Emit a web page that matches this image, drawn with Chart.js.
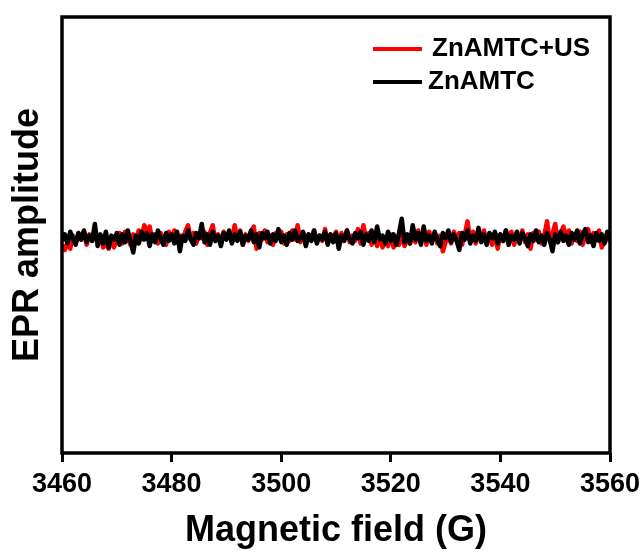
<!DOCTYPE html>
<html>
<head>
<meta charset="utf-8">
<script src="https://cdn.jsdelivr.net/npm/chart.js@4.4.1/dist/chart.umd.min.js"></script>
<style>
  html, body { margin: 0; padding: 0; background: #ffffff; }
  #wrap { width: 644px; height: 553px; }
</style>
</head>
<body>
<div id="wrap"><canvas id="epr" width="644" height="553"></canvas></div>
<script>
// Magnetic field sweep: 3460–3560 G, 0.5 G per point (201 points)
const fieldStart = 3460;
const fieldStep = 0.5;

const xTicks = [3460, 3480, 3500, 3520, 3540, 3560];

const seriesNames = ['ZnAMTC+US', 'ZnAMTC'];
const seriesColors = ['#ff0000', '#000000'];

// EPR amplitude (a.u.), ZnAMTC after ultrasound
const ampZnAMTC_US = [
  -6, -10, -4, -9, 1, -5, 3, -2, 4, -6, 2, -3, 5, -4, 1, -8, -5, -9, -3, -8,
  -2, 3, -5, 4, -1, -6, 2, -3, 5, -2, 9, 4, 8, -3, 2, -5, 3, -1, -6, 4,
  -2, 5, -4, 1, -3, 4, 9, -2, 3, -5, 2, -1, 4, -6, 3, 9, -3, 2, -5, 4,
  -1, 3, -4, 9, -2, 5, -6, 2, -3, 4, 8, -9, 3, -2, 5, -4, 1, -6, 3, -1,
  4, -5, 2, -3, 5, -2, 9, -4, 3, -6, 2, -1, 5, -4, 1, -3, 6, -5, 2, -2,
  4, -6, 3, -2, 5, -4, 1, -3, 6, -5, 9, -2, 3, -6, 2, -7, 1, -8, -3, -7,
  2, -8, -4, -6, 3, -7, -2, -5, 1, -4, 5, -3, 2, -6, 4, -2, 3, -5, 1, -11,
  -4, 2, -5, 4, -1, 3, -6, 2, 12, -3, 4, -5, 2, -2, 5, -4, 1, -6, 3, -9,
  2, -3, 5, -2, 4, -6, 1, -3, 5, -4, 2, -9, 3, -2, 4, -5, 1, 12, -3, 2,
  10, -4, 3, 8, -2, 5, -5, 2, -3, 4, -6, 1, 6, -4, 3, -2, 5, -8, -3, 1,
  -4
];

// EPR amplitude (a.u.), ZnAMTC
const ampZnAMTC = [
  -3, 2, -5, 4, -1, -6, 3, -2, 5, -4, 1, -3, 10, -7, 2, -5, 4, -8, 1, -2,
  3, -6, 2, -4, 5, -3, -12, 1, -5, 4, -2, 3, -7, 2, -4, 5, -1, -6, 3, -3,
  2, -5, 4, -11, 1, -3, 5, -2, -6, 3, -1, 10, -4, 2, -6, 4, -3, 1, -7, 3,
  -2, 5, -5, 2, -3, 4, -6, 1, -2, 5, -4, 2, -8, 3, -1, 4, -5, 2, -3, 6,
  -4, 1, -6, 3, -2, 5, -3, -1, 4, -7, 2, -3, 5, -5, 1, -2, 4, -6, 2, -4,
  3, -9, 1, -3, 5, -2, -5, 3, -1, 4, -6, 2, -3, 5, -4, 8, -2, 1, -5, 4,
  -3, 2, -6, 3, 14, -4, 2, -5, 9, -2, 3, -6, 8, -3, 1, -5, 4, -2, -7, 3,
  -1, 5, -4, 2, -3, -10, 3, -2, 5, -5, 1, -3, 7, -4, 2, -6, 3, -1, 4, -5,
  2, -3, 5, -6, 1, -2, 4, -5, 3, -1, -7, 2, -3, 5, -4, 1, -6, 3, -2, -11,
  2, -4, 4, -3, 1, -6, 3, -2, 5, -5, 2, 6, -4, 1, -7, 3, -3, 2, -5, 4,
  -2
];

const FONT = '"Liberation Sans", Arial, Helvetica, sans-serif';

function toPoints(values) {
  return values.map((v, i) => ({ x: fieldStart + i * fieldStep, y: v }));
}

// Closed black frame around the plotting area
const framePlugin = {
  id: 'frame',
  afterDatasetsDraw(chart) {
    const { ctx, chartArea: a } = chart;
    ctx.save();
    ctx.strokeStyle = '#000';
    ctx.lineWidth = 3.5;
    ctx.strokeRect(a.left, a.top, a.right - a.left, a.bottom - a.top);
    ctx.restore();
  }
};

// Stacked line-sample legend in the upper right of the plot
const legendPlugin = {
  id: 'lineLegend',
  afterDraw(chart) {
    const { ctx, chartArea: a } = chart;
    const rows = [
      { ds: 0, y: a.top + 32, textGap: 10 },
      { ds: 1, y: a.top + 65, textGap: 6 }
    ];
    ctx.save();
    ctx.font = 'bold 26px ' + FONT;
    ctx.textBaseline = 'middle';
    ctx.textAlign = 'left';
    rows.forEach(r => {
      const ds = chart.data.datasets[r.ds];
      const x0 = a.right - 237;
      const x1 = x0 + 49;
      ctx.strokeStyle = ds.borderColor;
      ctx.lineWidth = 4;
      ctx.beginPath();
      ctx.moveTo(x0, r.y);
      ctx.lineTo(x1, r.y);
      ctx.stroke();
      ctx.fillStyle = '#000';
      ctx.fillText(ds.label, x1 + r.textGap, r.y);
    });
    ctx.restore();
  }
};

new Chart(document.getElementById('epr'), {
  type: 'line',
  data: {
    datasets: [
      {
        label: seriesNames[0],
        data: toPoints(ampZnAMTC_US),
        borderColor: seriesColors[0],
        backgroundColor: seriesColors[0],
        borderWidth: 4.5,
        borderJoinStyle: 'round',
        pointRadius: 0,
        tension: 0,
        order: 2
      },
      {
        label: seriesNames[1],
        data: toPoints(ampZnAMTC),
        borderColor: seriesColors[1],
        backgroundColor: seriesColors[1],
        borderWidth: 4.5,
        borderJoinStyle: 'round',
        pointRadius: 0,
        tension: 0,
        order: 1
      }
    ]
  },
  options: {
    responsive: false,
    animation: false,
    devicePixelRatio: 1,
    layout: { padding: { top: 17, right: 34, left: 0, bottom: 0 } },
    plugins: {
      legend: { display: false },
      tooltip: { enabled: false }
    },
    scales: {
      x: {
        type: 'linear',
        min: 3460,
        max: 3560,
        afterBuildTicks(scale) {
          scale.ticks = xTicks.map(v => ({ value: v }));
        },
        afterFit(scale) {
          scale.height = 100;
          scale.paddingLeft = 0;
          scale.paddingRight = 0;
        },
        border: { display: false },
        grid: {
          display: true,
          drawOnChartArea: false,
          drawTicks: true,
          tickLength: 9,
          lineWidth: 3,
          color: '#000'
        },
        ticks: {
          color: '#000',
          padding: 6,
          maxRotation: 0,
          callback: (v) => String(v),
          font: { family: FONT, size: 27, weight: 'bold' }
        },
        title: {
          display: true,
          text: 'Magnetic field (G)',
          color: '#000',
          padding: { top: 0, bottom: 0 },
          font: { family: FONT, size: 36, weight: 'bold' }
        }
      },
      y: {
        type: 'linear',
        min: -166,
        max: 169,
        afterFit(scale) { scale.width = 62; },
        border: { display: false },
        grid: { display: false },
        ticks: { display: false },
        title: {
          display: true,
          text: 'EPR amplitude',
          color: '#000',
          padding: { top: 6, bottom: 0 },
          font: { family: FONT, size: 36, weight: 'bold' }
        }
      }
    }
  },
  plugins: [framePlugin, legendPlugin]
});
</script>
</body>
</html>
